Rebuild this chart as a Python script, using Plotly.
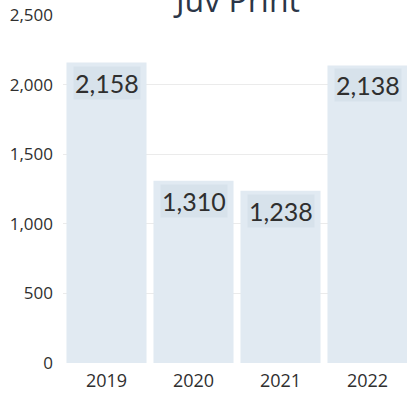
import plotly.graph_objects as go

years = ["2019", "2020", "2021", "2022"]
copies = [2158, 1310, 1238, 2138]
y_ticks = [0, 500, 1000, 1500, 2000, 2500]

bar_color = "#e1eaf2"
label_bg = "#d7e2eb"
text_color = "#2f2f2f"

fig = go.Figure(
    go.Bar(
        x=years,
        y=copies,
        marker=dict(color=bar_color, line=dict(width=0)),
        width=0.92,
        hoverinfo="skip",
    )
)

annotations = []
# value labels sitting just inside the top of each bar
for i, v in enumerate(copies):
    annotations.append(dict(
        x=i, y=v, xref="x", yref="y",
        text=f"{v:,}",
        showarrow=False,
        yanchor="top",
        yshift=-3,
        font=dict(family="Lato", size=25, color=text_color),
        bgcolor=label_bg,
        borderpad=1,
    ))

# title, partly above the visible page
annotations.append(dict(
    x=(236 - 63) / (407 - 63), xref="x domain", y=1, yref="paper",
    text="Juv Print", showarrow=False,
    xanchor="center", yanchor="bottom", yshift=-8,
    font=dict(family="Open Sans", size=32, color="#2b3648"),
))

fig.update_layout(
    width=407, height=396,
    margin=dict(l=63, r=0, t=15, b=33),
    paper_bgcolor="white", plot_bgcolor="white",
    showlegend=False,
    annotations=annotations,
    xaxis=dict(
        type="category",
        range=[-0.5, 3.454],
        showgrid=False, zeroline=False, showline=False,
        ticks="", tickfont=dict(family="Open Sans", size=18, color=text_color),
        ticklabelstandoff=5,
    ),
    yaxis=dict(
        range=[0, 2500],
        tickvals=y_ticks,
        ticktext=[f"{t:,}" for t in y_ticks],
        showgrid=True, gridcolor="#ebebeb", gridwidth=1,
        zeroline=False, showline=False, ticks="",
        tickfont=dict(family="Open Sans", size=17, color=text_color),
        ticklabelstandoff=9,
    ),
)

fig.write_html("out.html")
